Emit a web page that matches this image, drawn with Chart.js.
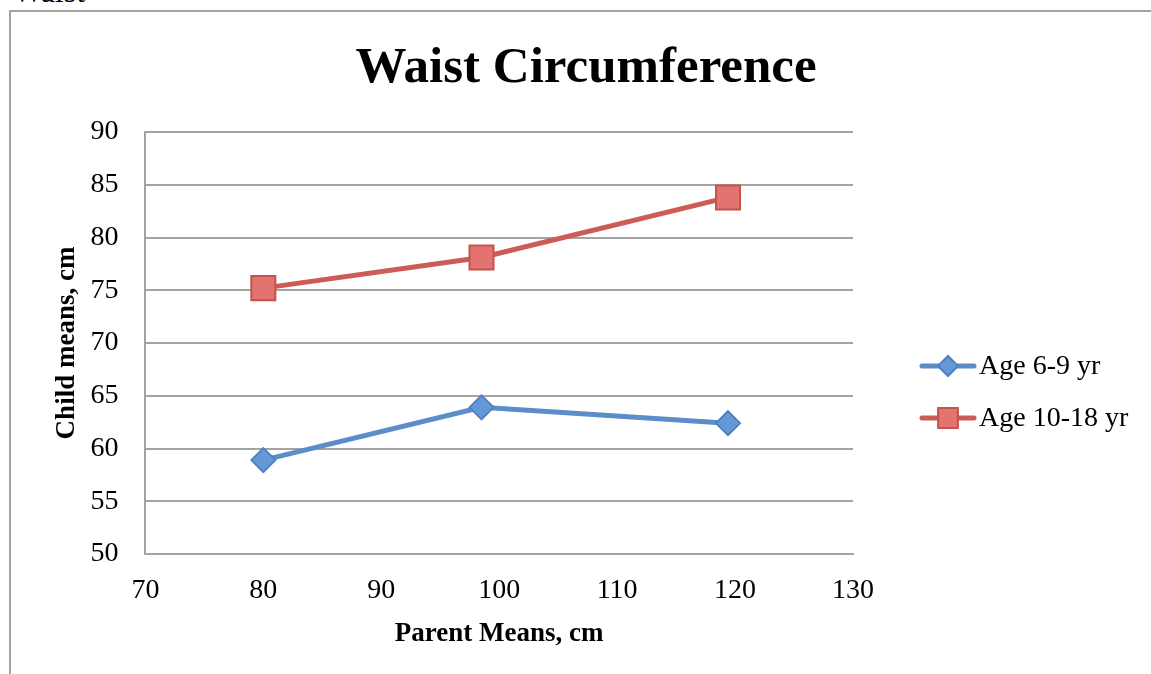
<!DOCTYPE html>
<html>
<head>
<meta charset="utf-8">
<script src="https://cdn.jsdelivr.net/npm/chart.js@4/dist/chart.umd.min.js"></script>
<style>
  html, body { margin: 0; padding: 0; background: #fff; overflow: hidden; }
  body { width: 1151px; height: 674px; position: relative; }
  .caption {
    position: absolute; left: 13px; top: -27px;
    font-family: 'Liberation Serif', 'Times New Roman', serif;
    font-size: 32px; color: #000;
  }
  .frame {
    position: absolute; left: 9px; top: 10px;
    width: 1180px; height: 700px;
    border-left: 2px solid #a3a3a3; border-top: 2px solid #a3a3a3;
  }
  #waistChart { position: absolute; left: 0; top: 0; }
</style>
</head>
<body>
<div class="caption">Waist</div>
<div class="frame">
  <canvas id="waistChart" width="1150" height="662"></canvas>
</div>
<script>
// values
const parentMeans = [80, 98.5, 119.4];
const age6to9 = [58.9, 63.9, 62.4];
const age10to18 = [75.2, 78.1, 83.8];
const seriesNames = ['Age 6-9 yr', 'Age 10-18 yr'];
const xTicks = [70, 80, 90, 100, 110, 120, 130];
const yTicks = [50, 55, 60, 65, 70, 75, 80, 85, 90];

const serif = "'Liberation Serif', 'Times New Roman', serif";

function toPoints(ys) {
  return parentMeans.map((x, i) => ({ x: x, y: ys[i] }));
}

// title centred on the whole chart object, not just the plot
const bigTitle = {
  id: 'bigTitle',
  afterDraw(chart) {
    const c = chart.ctx;
    c.save();
    c.fillStyle = '#000';
    c.font = 'bold 51px ' + serif;
    c.textAlign = 'center';
    c.textBaseline = 'middle';
    c.fillText('Waist Circumference', chart.width / 2, 57);
    c.restore();
  }
};

// legend drawn as line + marker, like the spreadsheet one
const sideLegend = {
  id: 'sideLegend',
  afterDraw(chart) {
    const c = chart.ctx;
    const rows = [354, 406];
    chart.data.datasets.forEach((ds, i) => {
      const y = rows[i];
      c.save();
      c.strokeStyle = ds.borderColor;
      c.lineWidth = ds.borderWidth;
      c.lineCap = 'round';
      c.beginPath();
      c.moveTo(911, y);
      c.lineTo(963, y);
      c.stroke();
      c.fillStyle = ds.pointBackgroundColor;
      c.strokeStyle = ds.pointBorderColor;
      c.lineWidth = ds.pointBorderWidth;
      Chart.helpers.drawPoint(c, {
        pointStyle: ds.pointStyle,
        rotation: 0,
        radius: ds.pointStyle === 'rect' ? 14 : 10,
        borderWidth: ds.pointBorderWidth
      }, 937, y);
      c.fillStyle = '#000';
      c.font = '28px ' + serif;
      c.textBaseline = 'middle';
      c.fillText(ds.label, 968, y + 1);
      c.restore();
    });
  }
};

const ctx = document.getElementById('waistChart').getContext('2d');

new Chart(ctx, {
  type: 'scatter',
  data: {
    datasets: [
      {
        label: seriesNames[0],
        data: toPoints(age6to9),
        showLine: true,
        borderColor: '#5b8dca',
        borderWidth: 5,
        pointStyle: 'rectRot',
        pointRadius: 12,
        pointHoverRadius: 12,
        pointBackgroundColor: '#6499d8',
        pointBorderColor: '#4f82c0',
        pointBorderWidth: 2
      },
      {
        label: seriesNames[1],
        data: toPoints(age10to18),
        showLine: true,
        borderColor: '#cd5c57',
        borderWidth: 5,
        pointStyle: 'rect',
        pointRadius: 17,
        pointHoverRadius: 17,
        pointBackgroundColor: '#e2736e',
        pointBorderColor: '#c6524d',
        pointBorderWidth: 2
      }
    ]
  },
  options: {
    responsive: false,
    animation: false,
    layout: {
      padding: { left: 36, right: 308, top: 120, bottom: 24 }
    },
    scales: {
      x: {
        type: 'linear',
        min: xTicks[0],
        max: xTicks[xTicks.length - 1],
        afterBuildTicks: (axis) => { axis.ticks = xTicks.map(v => ({ value: v })); },
        afterFit: (axis) => { axis.height -= 20; },
        grid: { display: false, drawTicks: false },
        border: { color: '#a3a3a3', width: 2 },
        ticks: { color: '#000', padding: 20, font: { family: serif, size: 28 } },
        title: {
          display: true,
          text: 'Parent Means, cm',
          color: '#000',
          padding: { top: 10, bottom: 0 },
          font: { family: serif, size: 27, weight: 'bold' }
        }
      },
      y: {
        min: yTicks[0],
        max: yTicks[yTicks.length - 1],
        afterBuildTicks: (axis) => { axis.ticks = yTicks.map(v => ({ value: v })); },
        afterFit: (axis) => { axis.width -= 24; },
        grid: { color: '#a3a3a3', lineWidth: 2, drawTicks: false },
        border: { color: '#a3a3a3', width: 2 },
        ticks: { color: '#000', padding: 27, font: { family: serif, size: 28 } },
        title: {
          display: true,
          text: 'Child means, cm',
          color: '#000',
          padding: { top: 4, bottom: 4 },
          font: { family: serif, size: 27, weight: 'bold' }
        }
      }
    },
    plugins: {
      legend: { display: false },
      tooltip: { enabled: false },
      title: { display: false }
    }
  },
  plugins: [bigTitle, sideLegend]
});
</script>
</body>
</html>
